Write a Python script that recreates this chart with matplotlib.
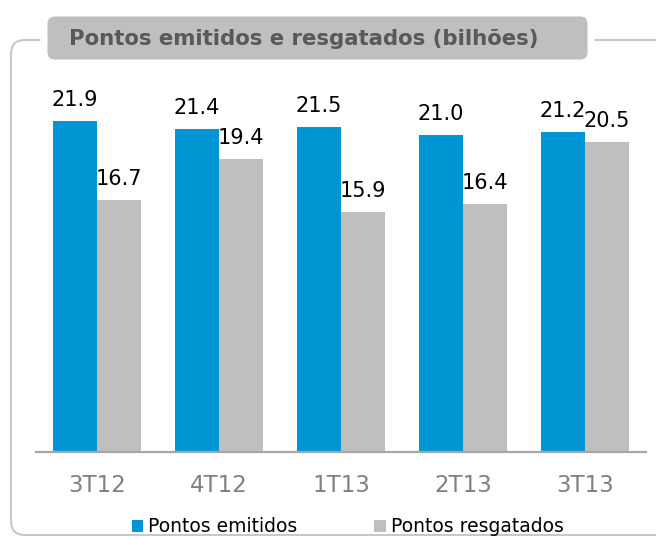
import matplotlib
matplotlib.use("Agg")
import matplotlib.pyplot as plt
import numpy as np
from matplotlib.patches import FancyBboxPatch

plt.rcParams["font.family"] = ["DejaVu Sans"]

categories = ["3T12", "4T12", "1T13", "2T13", "3T13"]
emitidos = [21.9, 21.4, 21.5, 21.0, 21.2]
resgatados = [16.7, 19.4, 15.9, 16.4, 20.5]
series_names = ["Pontos emitidos", "Pontos resgatados"]
title = "Pontos emitidos e resgatados (bilhões)"

W, H = 656, 539
fig = plt.figure(figsize=(W / 100, H / 100), dpi=100)

def fx(px):
    return px / W

def fy(py):
    return 1 - py / H

blue = "#0096D6"
gray = "#BFBFBF"

left, right, bottom, top = 36, 646, 452, 80
ax = fig.add_axes([fx(left), fy(bottom), fx(right) - fx(left), fy(top) - fy(bottom)])
x = np.arange(len(categories))
bw = 0.36
b1 = ax.bar(x - bw / 2, emitidos, bw, color=blue, label=series_names[0])
b2 = ax.bar(x + bw / 2, resgatados, bw, color=gray, label=series_names[1])
ax.set_xlim(-0.5, len(categories) - 0.5)
ax.set_ylim(0, (bottom - top) / 15.1)
for bars, vals in ((b1, emitidos), (b2, resgatados)):
    for r, v in zip(bars, vals):
        ax.annotate(f"{v:.1f}", (r.get_x() + r.get_width() / 2, v),
                    xytext=(0, 8), textcoords="offset points",
                    ha="center", va="bottom", fontsize=15, color="#000000")
for s in ("top", "right", "left"):
    ax.spines[s].set_visible(False)
ax.spines["bottom"].set_color("#A6A6A6")
ax.spines["bottom"].set_linewidth(1.6)
ax.set_yticks([])
ax.set_xticks(x)
ax.set_xticklabels(categories, fontsize=16.5, color="#808080")
ax.tick_params(axis="x", length=0, pad=16)

leg = ax.legend(loc="upper center", bbox_to_anchor=(0.511, -0.14), ncol=2,
                frameon=False, fontsize=13.5, handlelength=0.6, handleheight=0.6,
                handletextpad=0.27, columnspacing=4.1, borderpad=0.2)

frame = FancyBboxPatch((11, H - 535), 700, 495,
                       boxstyle="round,pad=0,rounding_size=14",
                       transform=None, facecolor="none",
                       edgecolor="#C8C8C8", linewidth=1.5, zorder=0)
fig.add_artist(frame)

tbox = FancyBboxPatch((44, H - 63), 547, 50,
                      boxstyle="round,pad=0,rounding_size=11",
                      transform=None, facecolor="#BFBFBF",
                      edgecolor="white", linewidth=5, zorder=1)
fig.add_artist(tbox)
fig.text(fx(69), fy(39), title, fontsize=15.3, fontweight="bold", color="#595959",
         ha="left", va="center", zorder=2)

fig.savefig("out.png", dpi=100)
